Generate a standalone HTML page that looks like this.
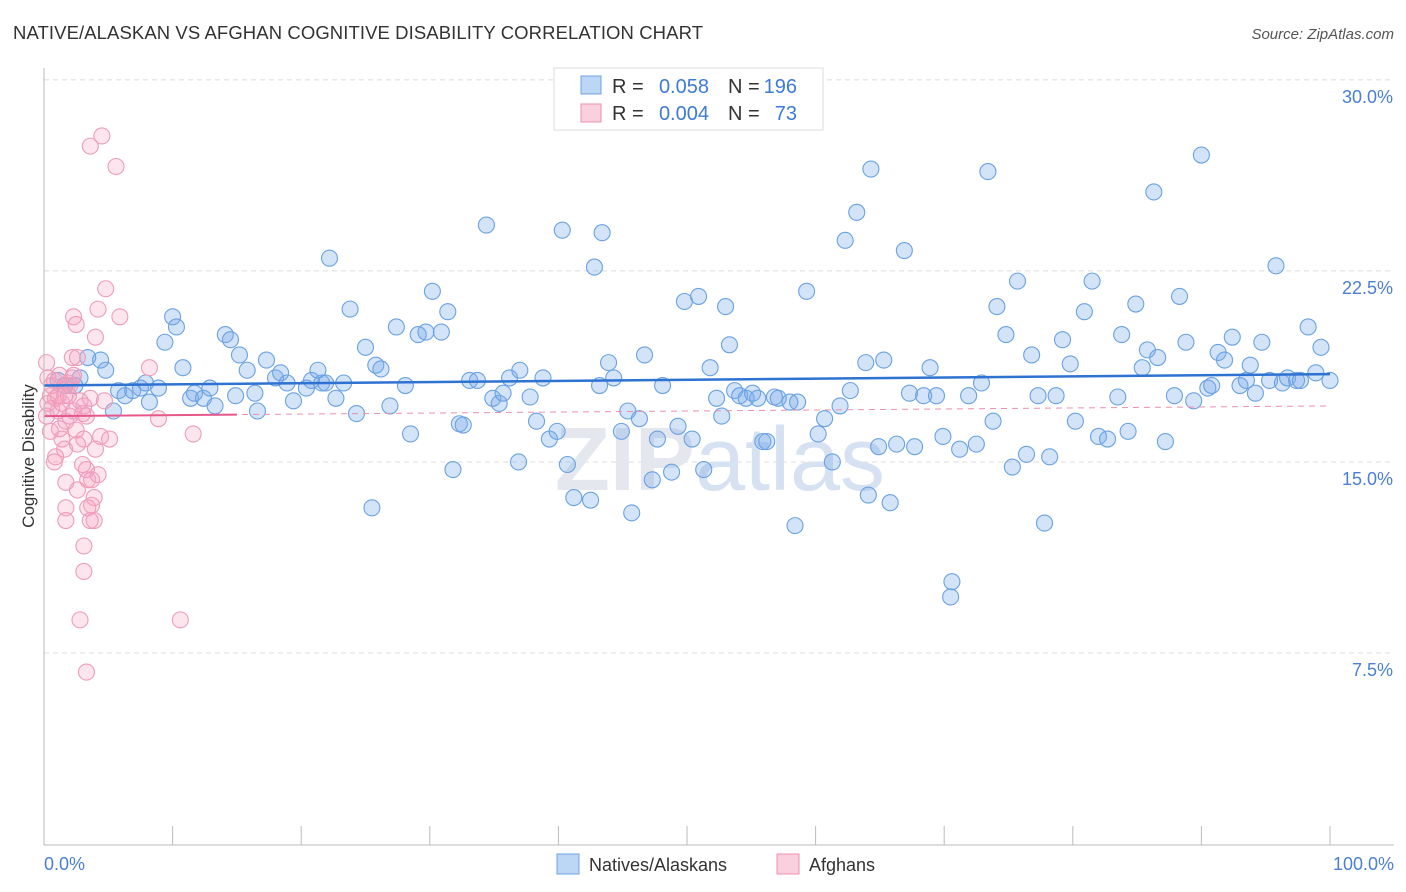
<!DOCTYPE html>
<html><head><meta charset="utf-8"><style>
body{margin:0;background:#fff;font-family:"Liberation Sans",sans-serif;}
svg{display:block}
</style></head><body>
<svg id="chart" width="1406" height="892" xmlns="http://www.w3.org/2000/svg">
<text x="13" y="39" font-size="18.5" fill="#333" textLength="690">NATIVE/ALASKAN VS AFGHAN COGNITIVE DISABILITY CORRELATION CHART</text>
<text x="1394" y="39" font-size="15" fill="#555" font-style="italic" text-anchor="end">Source: ZipAtlas.com</text>
<g id="grid"></g>
<g id="ticks"></g>
<text x="720" y="490" font-size="90" fill="#e4e8ee" text-anchor="middle" font-weight="bold">ZIP<tspan font-weight="normal" fill="#d6e2f2">atlas</tspan></text>
<g id="pts"></g>
<g id="trends"></g>
<line x1="44" y1="68" x2="44" y2="845" stroke="#bbb"/>
<line x1="44" y1="845" x2="1394" y2="845" stroke="#bbb"/>
<text transform="translate(34,456) rotate(-90)" font-size="17" fill="#333" text-anchor="middle">Cognitive Disability</text>
<text x="44" y="870" font-size="18" fill="#4a7fd4">0.0%</text>
<text x="1394" y="870" font-size="18" fill="#4a7fd4" text-anchor="end">100.0%</text>
<g>
<rect x="554" y="68" width="269" height="62" fill="#fff" stroke="#ddd"/>
<rect x="581" y="76" width="20" height="18" fill="#bcd6f5" stroke="#6fa3e3"/>
<rect x="581" y="104" width="20" height="18" fill="#fbd0de" stroke="#ec8fb0"/>
<g font-size="20">
<text x="612" y="93" fill="#333">R =</text>
<text x="709" y="93" fill="#3d7bd6" text-anchor="end">0.058</text>
<text x="728" y="93" fill="#333">N =</text>
<text x="797" y="93" fill="#3d7bd6" text-anchor="end">196</text>
</g>
<g font-size="20">
<text x="612" y="120" fill="#333">R =</text>
<text x="709" y="120" fill="#3d7bd6" text-anchor="end">0.004</text>
<text x="728" y="120" fill="#333">N =</text>
<text x="797" y="120" fill="#3d7bd6" text-anchor="end">73</text>
</g>
</g>
<g>
<rect x="557" y="854" width="22" height="20" fill="#bcd6f5" stroke="#6fa3e3"/>
<text x="589" y="871" font-size="18" fill="#333">Natives/Alaskans</text>
<rect x="777" y="854" width="22" height="20" fill="#fbd0de" stroke="#ec8fb0"/>
<text x="809" y="871" font-size="18" fill="#333">Afghans</text>
</g>
</svg>
<script>
const yTicks=[7.5,15,22.5,30];
const yTickLabels=["7.5%","15.0%","22.5%","30.0%"];
const xTicks=[0,10,20,30,40,50,60,70,80,90,100];
const natives=[[1.1,18.2],[1.6,18.0],[2.4,18.0],[3.4,19.1],[4.4,19.0],[4.8,18.6],[2.8,18.3],[5.4,17.0],[5.8,17.8],[6.3,17.6],[6.9,17.8],[7.5,17.9],[7.9,18.1],[8.2,17.35],[8.9,17.9],[9.4,19.7],[10.0,20.7],[10.3,20.3],[10.8,18.7],[11.4,17.5],[11.7,17.7],[12.4,17.5],[12.9,17.9],[13.3,17.2],[14.1,20.0],[14.5,19.8],[14.9,17.6],[15.2,19.2],[15.8,18.6],[16.4,17.7],[16.6,17.0],[17.3,19.0],[18.0,18.3],[18.4,18.5],[18.9,18.1],[19.4,17.4],[20.4,17.9],[20.8,18.2],[21.3,18.6],[21.6,18.1],[21.9,18.1],[22.2,23.0],[22.7,17.5],[23.3,18.1],[23.8,21.0],[24.3,16.9],[25.0,19.5],[25.5,13.2],[25.8,18.8],[26.2,18.65],[26.9,17.2],[27.4,20.3],[28.1,18.0],[28.5,16.1],[29.1,20.0],[29.7,20.1],[30.2,21.7],[30.9,20.1],[31.4,20.9],[31.8,14.7],[32.3,16.5],[32.6,16.45],[33.1,18.2],[33.7,18.2],[34.4,24.3],[34.9,17.5],[35.4,17.3],[35.7,17.7],[36.2,18.3],[36.9,15.0],[37.0,18.6],[37.8,17.55],[38.3,16.6],[38.8,18.3],[39.3,15.9],[39.9,16.2],[40.3,24.1],[40.7,14.9],[41.2,13.6],[42.5,13.5],[42.8,22.65],[43.4,24.0],[43.9,18.9],[44.3,18.3],[44.9,16.2],[45.4,17.0],[45.7,13.0],[46.3,16.7],[46.7,19.2],[47.3,14.3],[47.7,15.9],[48.1,18.0],[48.8,14.6],[49.3,16.4],[49.8,21.3],[50.4,15.9],[50.9,21.5],[51.3,14.7],[51.8,18.7],[52.3,17.5],[52.7,16.8],[53.0,21.1],[53.3,19.6],[53.7,17.8],[54.1,17.6],[54.6,17.5],[55.1,17.7],[55.5,17.5],[55.9,15.8],[56.2,15.8],[56.8,17.55],[57.1,17.5],[58.0,17.35],[58.4,12.5],[58.6,17.35],[59.3,21.7],[60.2,16.1],[60.7,16.7],[61.3,15.0],[61.9,17.2],[62.3,23.7],[62.7,17.8],[63.2,24.8],[63.9,18.9],[64.3,26.5],[64.9,15.6],[65.3,19.0],[65.8,13.4],[66.3,15.7],[66.9,23.3],[67.3,17.7],[67.7,15.6],[68.4,17.6],[68.9,18.7],[69.4,17.6],[69.9,16.0],[70.6,10.3],[70.5,9.7],[71.2,15.5],[71.9,17.6],[72.5,15.7],[72.9,18.1],[73.4,26.4],[73.8,16.6],[74.1,21.1],[74.8,20.0],[75.3,14.8],[75.7,22.1],[76.4,15.3],[76.8,19.2],[77.3,17.6],[77.8,12.6],[78.2,15.2],[78.7,17.6],[79.2,19.8],[79.8,18.85],[80.2,16.6],[80.9,20.9],[81.5,22.1],[82.0,16.0],[82.7,15.9],[83.5,17.55],[83.8,20.0],[84.3,16.2],[84.9,21.2],[85.4,18.7],[85.8,19.4],[86.3,25.6],[86.6,19.1],[87.2,15.8],[87.9,17.6],[88.3,21.5],[88.8,19.7],[89.4,17.4],[90.5,17.9],[90.8,18.0],[91.3,19.3],[91.8,19.0],[92.4,19.9],[93.0,18.0],[93.5,18.2],[93.8,18.8],[94.2,17.7],[94.7,19.7],[95.3,18.2],[95.8,22.7],[96.3,18.1],[96.7,18.3],[97.4,18.2],[97.7,18.2],[98.3,20.3],[98.9,18.5],[99.3,19.5],[100,18.2],[90.0,27.05],[64.1,13.7],[43.2,18.0]];
const afghans=[[0.2,18.9],[0.3,18.3],[0.5,17.6],[0.6,17.1],[0.8,18.2],[0.9,17.5],[1.1,17.0],[1.2,18.4],[1.4,15.9],[1.6,15.5],[1.7,16.6],[1.9,18.1],[2.0,16.8],[2.2,18.3],[2.3,20.7],[2.5,20.4],[2.6,19.1],[2.8,17.4],[3.0,16.9],[3.1,15.9],[3.3,14.7],[3.4,14.3],[3.6,27.4],[3.7,13.3],[3.9,12.7],[4.0,19.9],[4.2,21.0],[4.4,16.0],[4.5,27.8],[4.7,17.4],[4.8,21.8],[5.1,15.9],[5.6,26.6],[5.9,20.7],[8.2,18.7],[8.9,16.7],[10.6,8.8],[11.6,16.1],[2.8,8.8],[3.3,6.75],[3.1,11.7],[3.1,10.7],[1.7,14.2],[1.7,13.2],[1.7,12.7],[2.2,19.1],[2.3,18.4],[2.6,13.9],[3.0,14.9],[3.4,13.2],[3.6,12.7],[1.2,16.3],[0.9,15.2],[0.8,15.0],[0.5,16.2],[0.2,16.8],[0.3,17.3],[1.6,17.6],[2.0,18.0],[2.5,16.25],[3.1,17.2],[3.7,14.3],[3.9,13.6],[4.0,15.5],[1.4,17.3],[1.1,17.6],[0.6,18.0],[1.9,17.6],[2.3,17.0],[2.6,15.7],[3.3,16.8],[3.6,17.5],[4.2,14.5]];
const nativesTrend=[18.0,18.45];
const afghansTrend=[16.8,17.2];
const afghansSolidEnd=15;

const NS="http://www.w3.org/2000/svg";
const X0=44,X1=1330,Y0=844,PXV=25.47;
function xs(v){return X0+(X1-X0)*v/100;}
function ys(v){return Y0-v*PXV;}
function mk(tag,attrs,parent){const e=document.createElementNS(NS,tag);for(const k in attrs)e.setAttribute(k,attrs[k]);parent.appendChild(e);return e;}
const grid=document.getElementById('grid');
yTicks.forEach((t,i)=>{
  const y=ys(t);
  const l=mk('line',{x1:44,x2:1394,y1:y,y2:y,stroke:'#dcdcdc','stroke-dasharray':'5,4'},grid);
  
  
  const tx=mk('text',{x:1393,y:y+23,'font-size':18,fill:'#4a7fd4','text-anchor':'end'},grid);
  tx.textContent=yTickLabels[i];
  
  
});
const tk=document.getElementById('ticks');
xTicks.forEach(t=>{
  const l=mk('line',{x1:xs(t),x2:xs(t),y1:826,y2:845,stroke:'#bbb'},tk);
  
  
});
const pts=document.getElementById('pts');
natives.forEach(p=>{
  const c=mk('circle',{cx:xs(p[0]),cy:ys(p[1]),r:8,fill:'rgba(120,170,235,0.33)',stroke:'#6aa2e2','stroke-width':1.1},pts);
  
  
});
afghans.forEach(p=>{
  const c=mk('circle',{cx:xs(p[0]),cy:ys(p[1]),r:8,fill:'rgba(245,160,190,0.28)',stroke:'#ef9cba','stroke-width':1.1},pts);
  
  
});
const tr=document.getElementById('trends');
const ad=mk('line',{x1:xs(0),y1:ys(afghansTrend[0]),x2:xs(100),y2:ys(afghansTrend[1]),stroke:'#ec8fb0','stroke-width':1,'stroke-dasharray':'6,5'},tr);


const f=afghansSolidEnd/100;
const as=mk('line',{x1:xs(0),y1:ys(afghansTrend[0]),x2:xs(afghansSolidEnd),y2:ys(afghansTrend[0]+(afghansTrend[1]-afghansTrend[0])*f),stroke:'#e5588a','stroke-width':2},tr);


const nl=mk('line',{x1:xs(0),y1:ys(nativesTrend[0]),x2:xs(100),y2:ys(nativesTrend[1]),stroke:'#2e72d2','stroke-width':2.5},tr);


</script>
</body></html>
